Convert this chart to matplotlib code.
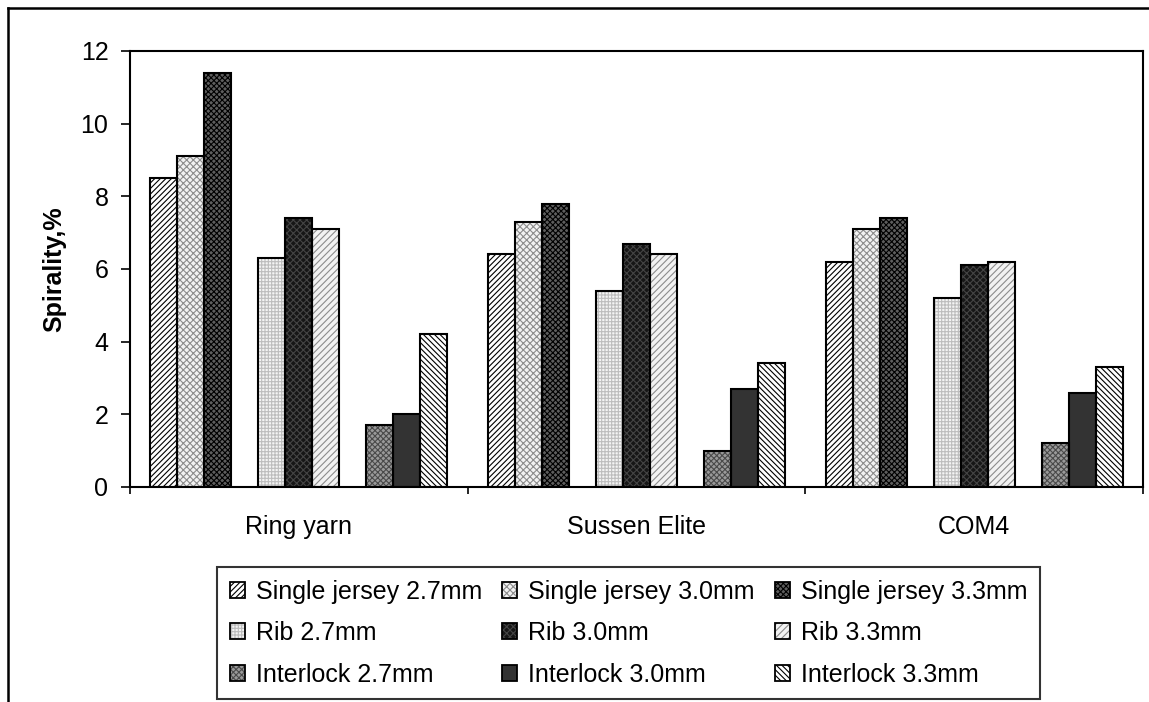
import matplotlib
matplotlib.use("Agg")
import matplotlib.pyplot as plt
from matplotlib.patches import Patch
from matplotlib.lines import Line2D
from matplotlib.legend_handler import HandlerTuple

plt.rcParams['font.family'] = ['Liberation Sans', 'DejaVu Sans']
plt.rcParams['hatch.linewidth'] = 0.8

categories = ["Ring yarn", "Sussen Elite", "COM4"]
series_names = ["Single jersey 2.7mm", "Single jersey 3.0mm", "Single jersey 3.3mm",
                "Rib 2.7mm", "Rib 3.0mm", "Rib 3.3mm",
                "Interlock 2.7mm", "Interlock 3.0mm", "Interlock 3.3mm"]
sj_27 = [8.5, 6.4, 6.2]
sj_30 = [9.1, 7.3, 7.1]
sj_33 = [11.4, 7.8, 7.4]
rib_27 = [6.3, 5.4, 5.2]
rib_30 = [7.4, 6.7, 6.1]
rib_33 = [7.1, 6.4, 6.2]
int_27 = [1.7, 1.0, 1.2]
int_30 = [2.0, 2.7, 2.6]
int_33 = [4.2, 3.4, 3.3]
series_values = [sj_27, sj_30, sj_33, rib_27, rib_30, rib_33, int_27, int_30, int_33]
yticks = [0, 2, 4, 6, 8, 10, 12]

# styles: (facecolor, hatch, hatch colour)
styles = [
    ("#ffffff", "//////", "#000000"),
    ("#f2f2f2", "xxxxx", "#8c8c8c"),
    ("#5e5e5e", "xxxxxx", "#000000"),
    ("#f4f4f4", "+++++", "#bdbdbd"),
    ("#161616", "xxxxx", "#444444"),
    ("#f2f2f2", "/////", "#8c8c8c"),
    ("#9a9a9a", "xxxxxx", "#4a4a4a"),
    ("#333333", "", "#333333"),
    ("#ffffff", "\\\\\\\\\\\\", "#000000"),
]
slots = [0, 1, 2, 4, 5, 6, 8, 9, 10]
bw = 1.0 / 12.5
FS = 18

W, H = 1149, 702
fig = plt.figure(figsize=(W / 100, H / 100), dpi=100)
ax = fig.add_axes([130 / W, 1 - 487 / H, (1143 - 130) / W, (487 - 51) / H])

handles = []
for vals, (fc, hatch, hc), slot in zip(series_values, styles, slots):
    xs = [i + 0.5 + (slot - 5) * bw for i in range(len(categories))]
    ax.bar(xs, vals, width=bw, color=fc, edgecolor=hc, hatch=hatch, linewidth=0, zorder=2)
    ax.bar(xs, vals, width=bw, fill=False, edgecolor="black", linewidth=1.5, zorder=3)
    p1 = Patch(facecolor=fc, edgecolor=hc, hatch=hatch, linewidth=0)
    p2 = Patch(fill=False, edgecolor="black", linewidth=1.3)
    handles.append((p1, p2))

ax.set_xlim(0, 3)
ax.set_ylim(0, 12)
ax.set_yticks(yticks)
ax.set_yticklabels([str(t) for t in yticks])
ax.tick_params(axis='y', direction='out', length=6.5, width=1.2, pad=9, labelsize=FS)
ax.set_xticks([0, 1, 2, 3])
ax.set_xticklabels([])
ax.set_xticks([0.5, 1.5, 2.5], minor=True)
ax.set_xticklabels(categories, minor=True)
ax.tick_params(axis='x', which='major', direction='out', length=5, width=1.2)
ax.tick_params(axis='x', which='minor', length=0, pad=20, labelsize=FS)
for s in ax.spines.values():
    s.set_linewidth(1.5)
ax.set_ylabel("Spirality,%", fontsize=FS, fontweight='bold', labelpad=10)

# legend filled row by row (matplotlib fills column-wise)
order = [0, 3, 6, 1, 4, 7, 2, 5, 8]
leg = fig.legend([handles[i] for i in order], [series_names[i] for i in order],
                 ncol=3, loc='center',
                 bbox_to_anchor=((215 + 1042) / 2 / W, 1 - 633 / H),
                 handler_map={tuple: HandlerTuple(ndivide=1)},
                 fontsize=FS, frameon=True, fancybox=False, edgecolor='black',
                 handlelength=0.6, handleheight=0.6, handletextpad=0.45,
                 columnspacing=0.8, labelspacing=0.7, borderpad=0.5,
                 borderaxespad=0)
leg.get_frame().set_linewidth(1.5)

fig.add_artist(Line2D([8 / W, 1], [1 - 8 / H, 1 - 8 / H], transform=fig.transFigure, color='black', lw=1.8))
fig.add_artist(Line2D([8 / W, 8 / W], [0, 1 - 8 / H], transform=fig.transFigure, color='black', lw=1.8))

fig.savefig("out.png", dpi=100)
